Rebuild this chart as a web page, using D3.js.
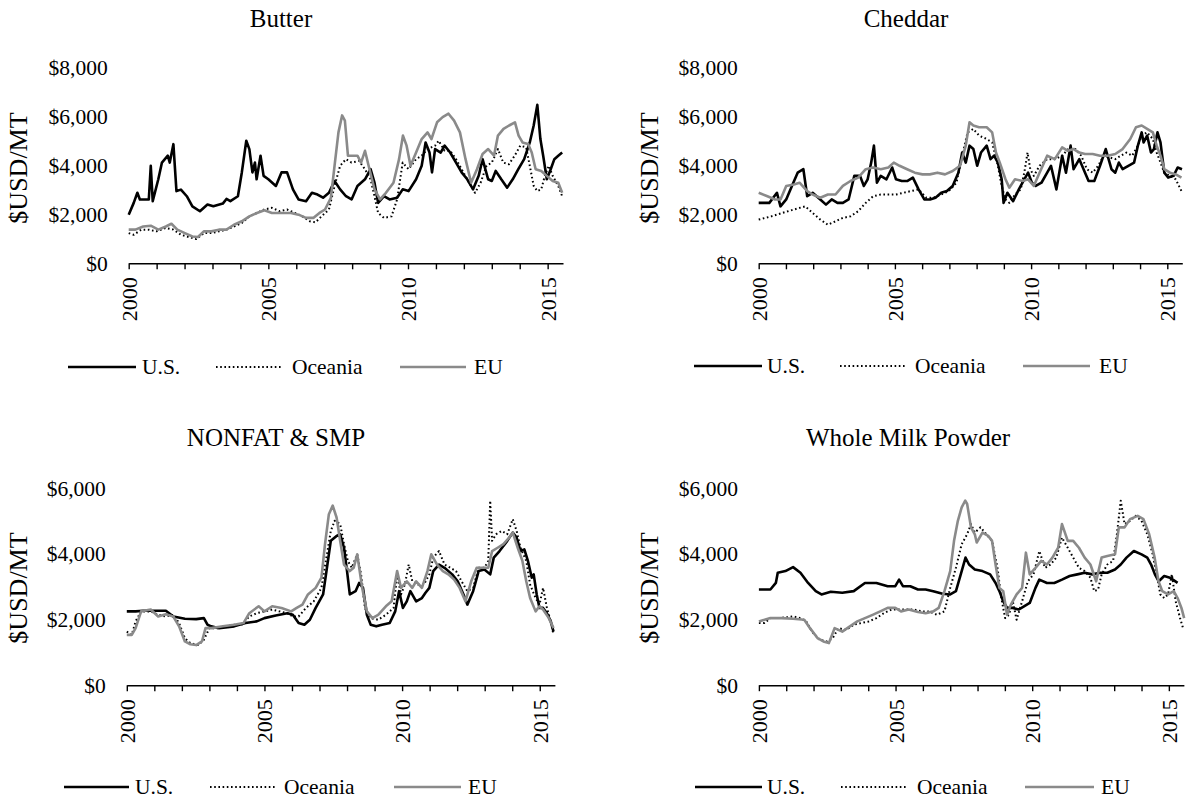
<!DOCTYPE html>
<html><head><meta charset="utf-8">
<script src="https://cdn.jsdelivr.net/npm/d3@7"></script>
<style>
body{margin:0;background:#fff;}
svg{display:block;}
svg text{font-family:"Liberation Serif","Tinos","Times New Roman",Times,"DejaVu Serif",serif;fill:#000;}
</style></head>
<body><svg id="chart" width="1186" height="800"></svg>
<script>
// ---------- data: [year, $USD/MT] ----------
const seriesNames = ["U.S.", "Oceania", "EU"];
const xTickYears = [2000,2001,2002,2003,2004,2005,2006,2007,2008,2009,2010,2011,2012,2013,2014,2015];
const xTickLabels = [2000, 2005, 2010, 2015];
const yTicksTop = [0, 2000, 4000, 6000, 8000];
const yTicksBottom = [0, 2000, 4000, 6000];
const panelTitles = ["Butter", "Cheddar", "NONFAT & SMP", "Whole Milk Powder"];

const butterUS = [[2000,1980],[2000.18,2460],[2000.31,2870],[2000.4,2600],[2000.72,2600],[2000.79,3970],[2000.86,2530],[2001.06,3420],[2001.19,4100],[2001.4,4380],[2001.47,4100],[2001.6,4850],[2001.71,2940],[2001.87,3000],[2002.08,2730],[2002.28,2320],[2002.55,2120],[2002.82,2390],[2003.03,2320],[2003.37,2430],[2003.5,2620],[2003.64,2530],[2003.91,2730],[2004.05,3700],[2004.21,4990],[2004.32,4650],[2004.43,3700],[2004.52,4100],[2004.58,3420],[2004.72,4380],[2004.83,3560],[2005.0,3420],[2005.27,3150],[2005.47,3700],[2005.67,3700],[2005.88,3010],[2006.08,2600],[2006.35,2530],[2006.56,2870],[2006.76,2800],[2006.96,2670],[2007.17,2870],[2007.37,3350],[2007.57,3010],[2007.78,2730],[2007.98,2600],[2008.19,3150],[2008.46,3420],[2008.66,3830],[2008.8,3280],[2008.93,2460],[2009.14,2730],[2009.34,2600],[2009.61,2670],[2009.81,3010],[2010.02,2940],[2010.29,3420],[2010.49,3970],[2010.63,4920],[2010.77,4510],[2010.86,3700],[2010.97,4650],[2011.17,4510],[2011.31,4790],[2011.51,4510],[2011.72,4100],[2011.92,3700],[2012.12,3420],[2012.33,3010],[2012.53,3560],[2012.67,4240],[2012.87,3420],[2013.0,3350],[2013.14,3760],[2013.34,3420],[2013.55,3080],[2013.75,3420],[2013.95,3830],[2014.16,4240],[2014.36,4920],[2014.5,5610],[2014.63,6450],[2014.74,5060],[2014.84,4380],[2014.97,3420],[2015.11,3830],[2015.24,4240],[2015.38,4380],[2015.52,4510]];
const butterOce = [[2000,1230],[2000.18,1160],[2000.45,1370],[2000.72,1370],[2000.99,1300],[2001.33,1440],[2001.6,1370],[2001.87,1160],[2002.15,1070],[2002.42,985],[2002.69,1230],[2002.96,1230],[2003.23,1300],[2003.5,1370],[2003.77,1500],[2004.05,1640],[2004.32,1910],[2004.59,2050],[2004.86,2190],[2005.13,2260],[2005.4,2120],[2005.67,2190],[2005.95,2050],[2006.22,1910],[2006.49,1710],[2006.69,1670],[2006.9,1910],[2007.17,2190],[2007.37,3150],[2007.57,3970],[2007.78,4240],[2007.98,4100],[2008.25,4170],[2008.46,3830],[2008.66,3420],[2008.8,2730],[2008.93,2050],[2009.14,1850],[2009.41,1910],[2009.61,2600],[2009.81,4100],[2010.02,3830],[2010.29,4240],[2010.49,4380],[2010.7,4650],[2010.97,4790],[2011.1,4990],[2011.31,4580],[2011.51,4580],[2011.72,4240],[2011.92,3830],[2012.19,3280],[2012.4,2870],[2012.6,3280],[2012.81,3970],[2013.0,4100],[2013.22,4650],[2013.41,4100],[2013.61,4030],[2013.82,4380],[2014.02,4790],[2014.23,4720],[2014.36,3970],[2014.5,3150],[2014.63,2940],[2014.77,3010],[2014.9,3560],[2015.04,3970],[2015.18,3560],[2015.38,3150],[2015.52,2730]];
const butterEU = [[2000,1370],[2000.24,1370],[2000.52,1500],[2000.79,1530],[2001.06,1370],[2001.33,1500],[2001.53,1610],[2001.74,1370],[2002.01,1230],[2002.28,1090],[2002.48,1070],[2002.69,1300],[2002.96,1300],[2003.23,1370],[2003.5,1370],[2003.77,1570],[2004.05,1710],[2004.32,1910],[2004.59,2050],[2004.86,2160],[2005.13,2050],[2005.47,2050],[2005.81,2050],[2006.08,1980],[2006.35,1850],[2006.62,1850],[2006.83,2050],[2007.03,2190],[2007.24,2670],[2007.37,3970],[2007.51,5330],[2007.64,6020],[2007.74,5810],[2007.85,4380],[2007.98,4380],[2008.19,4380],[2008.32,4100],[2008.46,4580],[2008.59,3970],[2008.8,3010],[2009.0,2600],[2009.21,2870],[2009.48,3280],[2009.68,4240],[2009.82,5200],[2009.95,4790],[2010.09,3970],[2010.29,4510],[2010.49,5060],[2010.7,5330],[2010.84,5060],[2011.04,5740],[2011.24,5950],[2011.45,6090],[2011.65,5810],[2011.86,5330],[2012.06,4240],[2012.26,3280],[2012.47,3830],[2012.67,4450],[2012.87,4650],[2013.08,4380],[2013.22,5200],[2013.42,5470],[2013.62,5610],[2013.83,5740],[2013.96,5200],[2014.1,4920],[2014.3,4860],[2014.43,4510],[2014.57,3830],[2014.77,3760],[2014.97,3560],[2015.18,3350],[2015.38,3280],[2015.52,2870]];

const cheddarUS = [[2000,2460],[2000.39,2460],[2000.67,2870],[2000.8,2320],[2001.01,2600],[2001.22,3150],[2001.43,3690],[2001.64,3830],[2001.78,2730],[2001.98,2870],[2002.26,2600],[2002.47,2390],[2002.68,2600],[2002.89,2460],[2003.09,2460],[2003.3,2600],[2003.51,3560],[2003.72,3560],[2003.86,3150],[2004.0,3420],[2004.13,4100],[2004.23,4790],[2004.34,3280],[2004.48,3560],[2004.69,3420],[2004.9,3900],[2005.04,3420],[2005.25,3350],[2005.45,3350],[2005.66,3490],[2005.87,3010],[2006.08,2600],[2006.29,2600],[2006.49,2670],[2006.7,2870],[2006.91,2940],[2007.12,3150],[2007.33,3690],[2007.47,4510],[2007.6,4100],[2007.74,4790],[2007.88,4650],[2008.02,3970],[2008.16,4510],[2008.37,4790],[2008.51,4240],[2008.64,4380],[2008.78,4100],[2008.92,3420],[2008.99,2460],[2009.13,2870],[2009.34,2530],[2009.55,3010],[2009.75,3420],[2009.89,3690],[2010.03,3280],[2010.17,3150],[2010.38,3280],[2010.59,3690],[2010.73,3970],[2010.93,3010],[2011.14,4380],[2011.28,3690],[2011.45,4790],[2011.56,3830],[2011.77,4240],[2011.98,3690],[2012.11,3350],[2012.32,3350],[2012.53,3970],[2012.74,4650],[2012.95,3830],[2013.09,3690],[2013.22,4100],[2013.36,3830],[2013.57,3970],[2013.78,4100],[2013.92,4790],[2014.06,5330],[2014.13,4920],[2014.26,5200],[2014.4,4510],[2014.51,4650],[2014.64,5330],[2014.75,4920],[2014.89,3690],[2015.03,3490],[2015.23,3560],[2015.38,3900],[2015.54,3830]];
const cheddarOce = [[2000,1780],[2000.46,1910],[2000.87,2050],[2001.29,2190],[2001.71,2320],[2001.98,2050],[2002.26,1780],[2002.54,1570],[2002.82,1710],[2003.09,1850],[2003.37,1910],[2003.65,2120],[2003.93,2460],[2004.2,2730],[2004.48,2800],[2004.76,2800],[2005.04,2800],[2005.31,2870],[2005.59,2940],[2005.87,3010],[2006.15,2670],[2006.42,2670],[2006.7,2800],[2006.98,2940],[2007.26,3280],[2007.47,4380],[2007.67,5330],[2007.88,5470],[2008.09,5200],[2008.37,5060],[2008.57,4920],[2008.78,3970],[2008.92,3150],[2009.06,2600],[2009.2,2460],[2009.41,2800],[2009.62,3010],[2009.75,3690],[2009.87,4510],[2009.97,3830],[2010.1,3560],[2010.31,3970],[2010.59,4240],[2010.87,4240],[2011.14,4380],[2011.42,4720],[2011.63,4650],[2011.84,4380],[2012.05,3830],[2012.26,3690],[2012.46,3970],[2012.67,4380],[2012.88,4310],[2013.09,4240],[2013.29,4380],[2013.5,4510],[2013.71,4380],[2013.92,4790],[2014.06,5200],[2014.26,5330],[2014.47,5060],[2014.61,4510],[2014.75,4100],[2014.89,3690],[2015.1,3560],[2015.31,3420],[2015.52,2940]];
const cheddarEU = [[2000,2870],[2000.32,2730],[2000.6,2600],[2000.8,2600],[2001.01,3150],[2001.29,3210],[2001.5,3280],[2001.78,2940],[2001.98,2800],[2002.26,2670],[2002.54,2800],[2002.82,2800],[2003.09,3150],[2003.37,3350],[2003.65,3490],[2003.93,3830],[2004.2,3900],[2004.48,3830],[2004.76,3900],[2004.96,4100],[2005.17,3970],[2005.45,3830],[2005.73,3690],[2006.01,3620],[2006.28,3620],[2006.56,3690],[2006.84,3620],[2007.12,3760],[2007.39,3970],[2007.6,4790],[2007.74,5740],[2007.88,5610],[2008.09,5540],[2008.37,5540],[2008.57,5330],[2008.71,4510],[2008.85,4100],[2009.06,3420],[2009.2,3080],[2009.41,3420],[2009.69,3350],[2009.89,3420],[2010.1,3150],[2010.31,3690],[2010.59,4380],[2010.87,4240],[2011.14,4720],[2011.35,4580],[2011.56,4650],[2011.77,4510],[2011.98,4450],[2012.26,4450],[2012.53,4380],[2012.81,4380],[2013.09,4450],[2013.36,4650],[2013.64,5060],[2013.85,5540],[2014.06,5610],[2014.26,5470],[2014.47,5330],[2014.61,4790],[2014.75,4380],[2014.89,3830],[2015.1,3690],[2015.31,3620],[2015.52,3490]];

const nonfatUS = [[2000,2245],[2000.32,2245],[2000.59,2265],[2000.87,2265],[2001.42,2265],[2001.69,2090],[2002.11,2020],[2002.52,2010],[2002.8,2040],[2002.93,1840],[2003.07,1790],[2003.35,1735],[2003.9,1790],[2004.31,1890],[2004.72,1940],[2005.0,2040],[2005.41,2120],[2005.83,2190],[2006.03,2140],[2006.24,1890],[2006.45,1840],[2006.65,1990],[2006.86,2350],[2007.13,2760],[2007.27,3570],[2007.41,4390],[2007.62,4540],[2007.75,4590],[2007.89,4180],[2008.0,3470],[2008.1,2760],[2008.31,2860],[2008.44,3110],[2008.58,2960],[2008.72,2140],[2008.86,1840],[2009.06,1790],[2009.27,1840],[2009.55,1890],[2009.75,2245],[2009.89,2860],[2010.03,2350],[2010.17,2550],[2010.3,2860],[2010.51,2550],[2010.72,2650],[2010.85,2810],[2010.99,2960],[2011.13,3470],[2011.34,3670],[2011.54,3570],[2011.82,3370],[2012.02,3160],[2012.23,2760],[2012.37,2450],[2012.58,2860],[2012.78,3470],[2012.99,3520],[2013.2,3370],[2013.33,3880],[2013.54,4080],[2013.82,4390],[2014.02,4640],[2014.16,4490],[2014.3,4080],[2014.44,4130],[2014.57,3780],[2014.71,3270],[2014.78,3370],[2014.89,2760],[2014.99,2350],[2015.12,2350],[2015.26,2190],[2015.4,1940],[2015.5,1630]];
const nonfatOce = [[2000,1630],[2000.18,1530],[2000.32,1940],[2000.52,2245],[2000.87,2245],[2001.14,2140],[2001.42,2090],[2001.69,2140],[2001.9,1890],[2002.11,1430],[2002.31,1280],[2002.59,1220],[2002.8,1380],[2003.0,1735],[2003.28,1735],[2003.62,1790],[2003.9,1840],[2004.17,1840],[2004.45,2090],[2004.72,2190],[2005.0,2245],[2005.28,2300],[2005.55,2245],[2005.83,2190],[2006.03,2090],[2006.24,2090],[2006.51,2350],[2006.79,2550],[2007.07,2960],[2007.27,3980],[2007.41,4690],[2007.55,5000],[2007.75,4900],[2007.89,4290],[2008.03,3780],[2008.17,3570],[2008.37,3980],[2008.51,3370],[2008.65,2350],[2008.86,2040],[2009.13,1990],[2009.41,2140],[2009.69,2350],[2009.82,3370],[2009.96,2760],[2010.1,3060],[2010.24,3670],[2010.37,3160],[2010.58,3060],[2010.79,3060],[2010.99,3370],[2011.13,3880],[2011.34,4080],[2011.54,3670],[2011.75,3570],[2011.96,3470],[2012.16,3160],[2012.37,2860],[2012.58,2960],[2012.78,3570],[2012.99,3570],[2013.13,3780],[2013.2,5610],[2013.27,4390],[2013.41,4590],[2013.62,4690],[2013.82,4590],[2014.02,5050],[2014.16,4690],[2014.3,4180],[2014.51,3780],[2014.65,3060],[2014.85,2650],[2014.99,2450],[2015.12,2960],[2015.26,2350],[2015.4,1940],[2015.5,1530]];
const nonfatEU = [[2000,1530],[2000.18,1530],[2000.32,1735],[2000.52,2245],[2000.87,2300],[2001.14,2090],[2001.42,2160],[2001.69,2090],[2001.9,1790],[2002.11,1330],[2002.31,1245],[2002.52,1220],[2002.73,1330],[2002.86,1735],[2003.07,1735],[2003.49,1790],[2003.9,1840],[2004.24,1890],[2004.45,2190],[2004.79,2400],[2005.0,2245],[2005.28,2400],[2005.62,2350],[2005.97,2245],[2006.17,2350],[2006.38,2450],[2006.58,2760],[2006.86,2960],[2007.07,3270],[2007.2,4290],[2007.34,5200],[2007.48,5460],[2007.62,5100],[2007.75,4390],[2007.89,3670],[2008.1,3470],[2008.24,3570],[2008.37,3980],[2008.55,2960],[2008.72,2245],[2008.92,2040],[2009.13,2140],[2009.41,2400],[2009.62,2550],[2009.82,3470],[2009.96,2960],[2010.17,3160],[2010.37,2960],[2010.51,3160],[2010.72,2960],[2010.92,3470],[2011.06,3980],[2011.27,3670],[2011.48,3470],[2011.68,3370],[2011.89,3210],[2012.09,2960],[2012.3,2550],[2012.51,3160],[2012.71,3570],[2012.92,3570],[2013.13,3570],[2013.27,4080],[2013.47,4180],[2013.68,4290],[2013.89,4490],[2014.02,4640],[2014.2,4180],[2014.37,3780],[2014.51,3160],[2014.65,2650],[2014.85,2245],[2014.99,2400],[2015.12,2300],[2015.33,2040],[2015.5,1735]];

const wmpUS = [[2000,2910],[2000.42,2910],[2000.62,3110],[2000.69,3420],[2000.97,3470],[2001.25,3590],[2001.52,3420],[2001.8,3110],[2002.08,2860],[2002.29,2760],[2002.63,2840],[2003.05,2810],[2003.47,2860],[2003.88,3110],[2004.3,3110],[2004.71,3010],[2004.99,3010],[2005.13,3210],[2005.27,3010],[2005.54,3010],[2005.82,2910],[2006.1,2910],[2006.38,2860],[2006.72,2780],[2007.0,2760],[2007.21,2860],[2007.42,3470],[2007.56,3880],[2007.69,3670],[2007.9,3520],[2008.18,3470],[2008.46,3370],[2008.66,3110],[2008.8,2860],[2008.94,2550],[2009.08,2350],[2009.29,2350],[2009.5,2300],[2009.7,2400],[2009.91,2500],[2010.12,2960],[2010.26,3210],[2010.54,3110],[2010.81,3110],[2011.09,3210],[2011.37,3320],[2011.65,3370],[2011.92,3420],[2012.2,3370],[2012.48,3420],[2012.75,3420],[2013.03,3520],[2013.24,3670],[2013.45,3880],[2013.72,4080],[2014.0,3980],[2014.21,3880],[2014.35,3670],[2014.49,3370],[2014.63,3160],[2014.83,3320],[2015.04,3270],[2015.32,3110]];
const wmpOce = [[2000,1890],[2000.21,1890],[2000.42,2040],[2000.69,2040],[2000.97,2060],[2001.25,2090],[2001.52,2040],[2001.73,1940],[2001.94,1630],[2002.22,1380],[2002.5,1330],[2002.7,1430],[2002.91,1735],[2003.19,1680],[2003.47,1840],[2003.74,1890],[2004.02,1940],[2004.3,2040],[2004.57,2190],[2004.85,2300],[2005.13,2300],[2005.41,2300],[2005.68,2300],[2005.96,2245],[2006.24,2245],[2006.51,2140],[2006.79,2245],[2007.0,2960],[2007.21,3570],[2007.42,4290],[2007.62,4590],[2007.76,4900],[2007.9,4640],[2008.11,4800],[2008.32,4590],[2008.53,4390],[2008.73,3570],[2008.87,2650],[2009.01,2040],[2009.15,2140],[2009.29,2550],[2009.43,1990],[2009.63,2550],[2009.84,3160],[2010.05,3370],[2010.26,4080],[2010.47,3570],[2010.67,3670],[2010.88,3880],[2011.09,4490],[2011.3,4180],[2011.5,3880],[2011.71,3570],[2011.92,3470],[2012.13,3270],[2012.27,2860],[2012.41,2910],[2012.54,3370],[2012.75,3670],[2012.96,3780],[2013.1,4590],[2013.24,5610],[2013.38,4900],[2013.58,5000],[2013.79,5150],[2014.0,5000],[2014.21,4590],[2014.41,3980],[2014.55,3370],[2014.69,2760],[2014.83,2650],[2014.97,2760],[2015.11,3370],[2015.25,2550],[2015.41,2040],[2015.52,1735]];
const wmpEU = [[2000,1940],[2000.21,1990],[2000.42,2040],[2000.83,2040],[2001.25,2020],[2001.66,1990],[2001.87,1735],[2002.15,1430],[2002.36,1330],[2002.56,1280],[2002.77,1735],[2003.05,1630],[2003.33,1790],[2003.6,1940],[2003.88,2040],[2004.16,2140],[2004.44,2245],[2004.71,2350],[2004.99,2350],[2005.2,2245],[2005.48,2300],[2005.82,2225],[2006.1,2190],[2006.38,2245],[2006.58,2350],[2006.79,2860],[2007.0,3470],[2007.14,4390],[2007.28,5000],[2007.42,5410],[2007.55,5610],[2007.62,5510],[2007.76,4800],[2007.9,4590],[2007.97,4340],[2008.18,4640],[2008.39,4540],[2008.53,4390],[2008.66,3670],[2008.8,2960],[2008.94,2860],[2009.08,2140],[2009.22,2450],[2009.43,2760],[2009.63,2960],[2009.77,4030],[2009.91,3370],[2010.12,3570],[2010.33,3780],[2010.54,3670],[2010.74,3880],[2010.95,4180],[2011.09,4900],[2011.3,4390],[2011.5,4390],[2011.71,4180],[2011.92,3880],[2012.13,3670],[2012.34,3160],[2012.54,3880],[2012.75,3930],[2013.03,3980],[2013.17,4800],[2013.38,4800],[2013.58,5050],[2013.86,5150],[2014.07,5050],[2014.28,4590],[2014.48,3880],[2014.62,3160],[2014.76,2860],[2014.97,2760],[2015.18,2860],[2015.32,2650],[2015.46,2350],[2015.56,2040]];

// ---------- layout ----------
const FONT = '"Liberation Serif","Tinos","Times New Roman",Times,"DejaVu Serif",serif';
const panels = [
  {title: panelTitles[0], data: [butterUS, butterOce, butterEU], yTicks: yTicksTop, yMax: 8000,
   x0: 128.7, pxYr: 27.93, yBase: 263.3, yTop: 66.8, titleX: 281, titleY: 27, yLabX: 19, yLabY: 168,
   legY: 367, leg: [[68,136,142],[216,282,292],[400,466,474]]},
  {title: panelTitles[1], data: [cheddarUS, cheddarOce, cheddarEU], yTicks: yTicksTop, yMax: 8000,
   x0: 758.7, pxYr: 27.24, yBase: 263.3, yTop: 66.8, titleX: 906, titleY: 27, yLabX: 650, yLabY: 168,
   legY: 366, leg: [[694,762,767],[840,906,915],[1023,1090,1099]]},
  {title: panelTitles[2], data: [nonfatUS, nonfatOce, nonfatEU], yTicks: yTicksBottom, yMax: 6000,
   x0: 126.8, pxYr: 27.53, yBase: 685.2, yTop: 487.9, titleX: 276, titleY: 446, yLabX: 19, yLabY: 588,
   legY: 787, leg: [[64,129,135],[210,277,284],[394,461,468]]},
  {title: panelTitles[3], data: [wmpUS, wmpOce, wmpEU], yTicks: yTicksBottom, yMax: 6000,
   x0: 758.9, pxYr: 27.33, yBase: 685.2, yTop: 487.9, titleX: 908, titleY: 446, yLabX: 650, yLabY: 588,
   legY: 787, leg: [[695,762,767],[841,908,917],[1025,1094,1101]]}
];
const styles = [
  {stroke: "#000", width: 2.6, dash: null},
  {stroke: "#000", width: 2, dash: "1.6,2.6"},
  {stroke: "#8a8a8a", width: 2.6, dash: null}
];
const xEnd = 2015.55;

const svg = d3.select("#chart");

panels.forEach(p => {
  const g = svg.append("g");
  const x = d3.scaleLinear().domain([2000, xEnd]).range([p.x0, p.x0 + (xEnd - 2000) * p.pxYr]);
  const y = d3.scaleLinear().domain([0, p.yMax]).range([p.yBase, p.yTop]);

  g.append("text").attr("x", p.titleX).attr("y", p.titleY).attr("text-anchor", "middle")
    .attr("font-family", FONT).style("font-size", "25px").text(p.title);

  const yAxis = d3.axisLeft(y).tickValues(p.yTicks).tickSize(0).tickPadding(21)
    .tickFormat(d => "$" + d3.format(",")(d));
  const ya = g.append("g").attr("transform", `translate(${p.x0},0)`).call(yAxis)
    .attr("font-family", FONT);
  ya.select(".domain").remove();
  ya.selectAll("text").style("font-size", "21.5px").attr("fill", "#000").attr("dy", "0.34em");

  g.append("text").attr("transform", `translate(${p.yLabX + 8},${p.yLabY}) rotate(-90)`)
    .attr("text-anchor", "middle").attr("font-family", FONT).style("font-size", "26px").text("$USD/MT");

  const xAxis = d3.axisBottom(x).tickValues(xTickYears).tickSize(6).tickPadding(0)
    .tickSizeOuter(0)
    .tickFormat(d => xTickLabels.includes(d) ? String(d) : "");
  const xa = g.append("g").attr("transform", `translate(0,${p.yBase})`).call(xAxis)
    .attr("font-family", FONT);
  xa.select(".domain").attr("stroke", "#000").attr("stroke-width", 1.6);
  xa.selectAll(".tick line").attr("stroke", "#000").attr("stroke-width", 1.4);
  xa.selectAll("text")
    .style("font-size", "22px").attr("fill", "#000")
    .attr("text-anchor", "end").attr("transform", "rotate(-90)")
    .attr("x", -14).attr("y", 0).attr("dy", "0.34em");

  const line = d3.line().x(d => x(d[0])).y(d => y(d[1]));
  p.data.forEach((ser, i) => {
    const s = styles[i];
    g.append("path").datum(ser).attr("d", line).attr("fill", "none")
      .attr("stroke", s.stroke).attr("stroke-width", s.width)
      .attr("stroke-linejoin", "round")
      .attr("stroke-dasharray", s.dash);
  });

  seriesNames.forEach((name, i) => {
    const s = styles[i];
    const [l0, l1, tx] = p.leg[i];
    g.append("line").attr("x1", l0).attr("x2", l1).attr("y1", p.legY).attr("y2", p.legY)
      .attr("stroke", s.stroke).attr("stroke-width", s.width).attr("stroke-dasharray", s.dash);
    g.append("text").attr("x", tx).attr("y", p.legY).attr("dy", "0.34em")
      .attr("font-family", FONT).style("font-size", "21.5px").text(name);
  });
});
</script></body></html>
